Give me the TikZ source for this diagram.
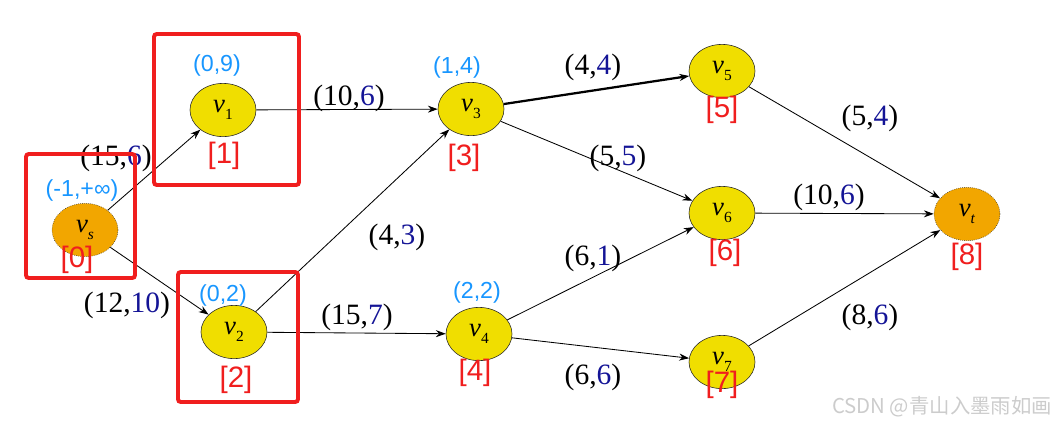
\documentclass[tikz,border=0pt]{standalone}
\usepackage{fontspec}
\setmainfont{Liberation Serif}
\setsansfont{Liberation Sans}
\newfontfamily\cjkfont{Noto Sans CJK SC}
\usetikzlibrary{arrows.meta,shapes.geometric}

\definecolor{nodeyellow}{RGB}{240,222,0}
\definecolor{nodeorange}{RGB}{242,166,0}
\definecolor{lblblue}{RGB}{24,150,255}
\definecolor{flowblue}{RGB}{20,20,150}
\definecolor{boxred}{RGB}{240,30,30}

\newcommand{\flowpair}[2]{(#1,\textcolor{flowblue}{#2})}
\newcommand{\vsub}[1]{\textit{v}\raisebox{-5pt}{\fontsize{11}{11}\selectfont #1}}

\tikzset{
  vert/.style={ellipse, draw=black!85, fill=nodeyellow, minimum width=1.65cm,
    minimum height=1.33cm, inner sep=0pt, font=\fontsize{19}{21}\selectfont},
  term/.style={vert, fill=nodeorange, densely dotted},
  flow/.style={->, black, line width=0.6pt},
  edgelbl/.style={font=\fontsize{21}{23}\selectfont, inner sep=0pt},
  marklbl/.style={font=\sffamily\fontsize{16.5}{18}\selectfont, text=lblblue, inner sep=0pt},
  idxlbl/.style={font=\sffamily\fontsize{21}{23}\selectfont, text=boxred, inner sep=0pt},
  redbox/.style={draw=boxred, line width=2.8pt, rounded corners=2pt}
}

\begin{document}
\begin{tikzpicture}[x=0.025cm, y=-0.025cm, >={Stealth[length=7pt,width=5pt]}]
    \useasboundingbox (0,0) rectangle (1058,424);

    % vertices
    \node[term] (vs) at (85,230) {\vsub{\textit{s}}};
    \node[vert] (v1) at (223,110) {\vsub{1}};
    \node[vert] (v2) at (234,332) {\vsub{2}};
    \node[vert] (v3) at (471,109) {\vsub{3}};
    \node[vert] (v4) at (479,334) {\vsub{4}};
    \node[vert] (v5) at (722,71) {\vsub{5}};
    \node[vert] (v6) at (722,213) {\vsub{6}};
    \node[vert] (v7) at (722,362) {\vsub{7}};
    \node[term] (vt) at (967,214) {\vsub{\textit{t}}};

    % arcs
    \draw[flow] (vs) -- (v1);
    \draw[flow] (vs) -- (v2);
    \draw[flow] (v1) -- (v3);
    \draw[flow] (v2) -- (v3);
    \draw[flow] (v2) -- (v4);
    \draw[flow, line width=1.6pt] (v3) -- (v5);
    \draw[flow] (v3) -- (v6);
    \draw[flow] (v4) -- (v6);
    \draw[flow] (v4) -- (v7);
    \draw[flow] (v5) -- (vt);
    \draw[flow] (v6) -- (vt);
    \draw[flow] (v7) -- (vt);

    % capacity, flow
    \node[edgelbl] (e01) at (116,158) {\flowpair{15}{6}};
    \node[edgelbl] (e02) at (127,305) {\flowpair{12}{10}};
    \node[edgelbl] (e13) at (349,98) {\flowpair{10}{6}};
    \node[edgelbl] (e23) at (397,237) {\flowpair{4}{3}};
    \node[edgelbl] (e24) at (357,317) {\flowpair{15}{7}};
    \node[edgelbl] (e35) at (593,67) {\flowpair{4}{4}};
    \node[edgelbl] (e36) at (618,158) {\flowpair{5}{5}};
    \node[edgelbl] (e46) at (593,258) {\flowpair{6}{1}};
    \node[edgelbl] (e47) at (593,377) {\flowpair{6}{6}};
    \node[edgelbl] (e5t) at (870,118) {\flowpair{5}{4}};
    \node[edgelbl] (e6t) at (829,197) {\flowpair{10}{6}};
    \node[edgelbl] (e7t) at (870,317) {\flowpair{8}{6}};

    % labels (predecessor, increment)
    \node[marklbl] (ms) at (82,190) {(-1,+∞)};
    \node[marklbl] (m1) at (217,65) {(0,9)};
    \node[marklbl] (m2) at (223,295) {(0,2)};
    \node[marklbl] (m3) at (457,67) {(1,4)};
    \node[marklbl] (m4) at (477,292) {(2,2)};

    % indices
    \node[idxlbl] (i0) at (77,260) {[0]};
    \node[idxlbl] (i1) at (224,156) {[1]};
    \node[idxlbl] (i2) at (236,380) {[2]};
    \node[idxlbl] (i3) at (464,158) {[3]};
    \node[idxlbl] (i4) at (475,373) {[4]};
    \node[idxlbl] (i5) at (722,110) {[5]};
    \node[idxlbl] (i6) at (725,253) {[6]};
    \node[idxlbl] (i7) at (722,385) {[7]};
    \node[idxlbl] (i8) at (967,257) {[8]};

    % marked boxes
    \draw[redbox] (26,154) rectangle (135,278);
    \draw[redbox] (154,34) rectangle (299,185);
    \draw[redbox] (178,272) rectangle (298,402);

    \node[font=\cjkfont\fontsize{14.5}{16}\selectfont, text=black!20, inner sep=0pt]
      (wm) at (942,407) {CSDN @青山入墨雨如画};
\end{tikzpicture}
\end{document}
